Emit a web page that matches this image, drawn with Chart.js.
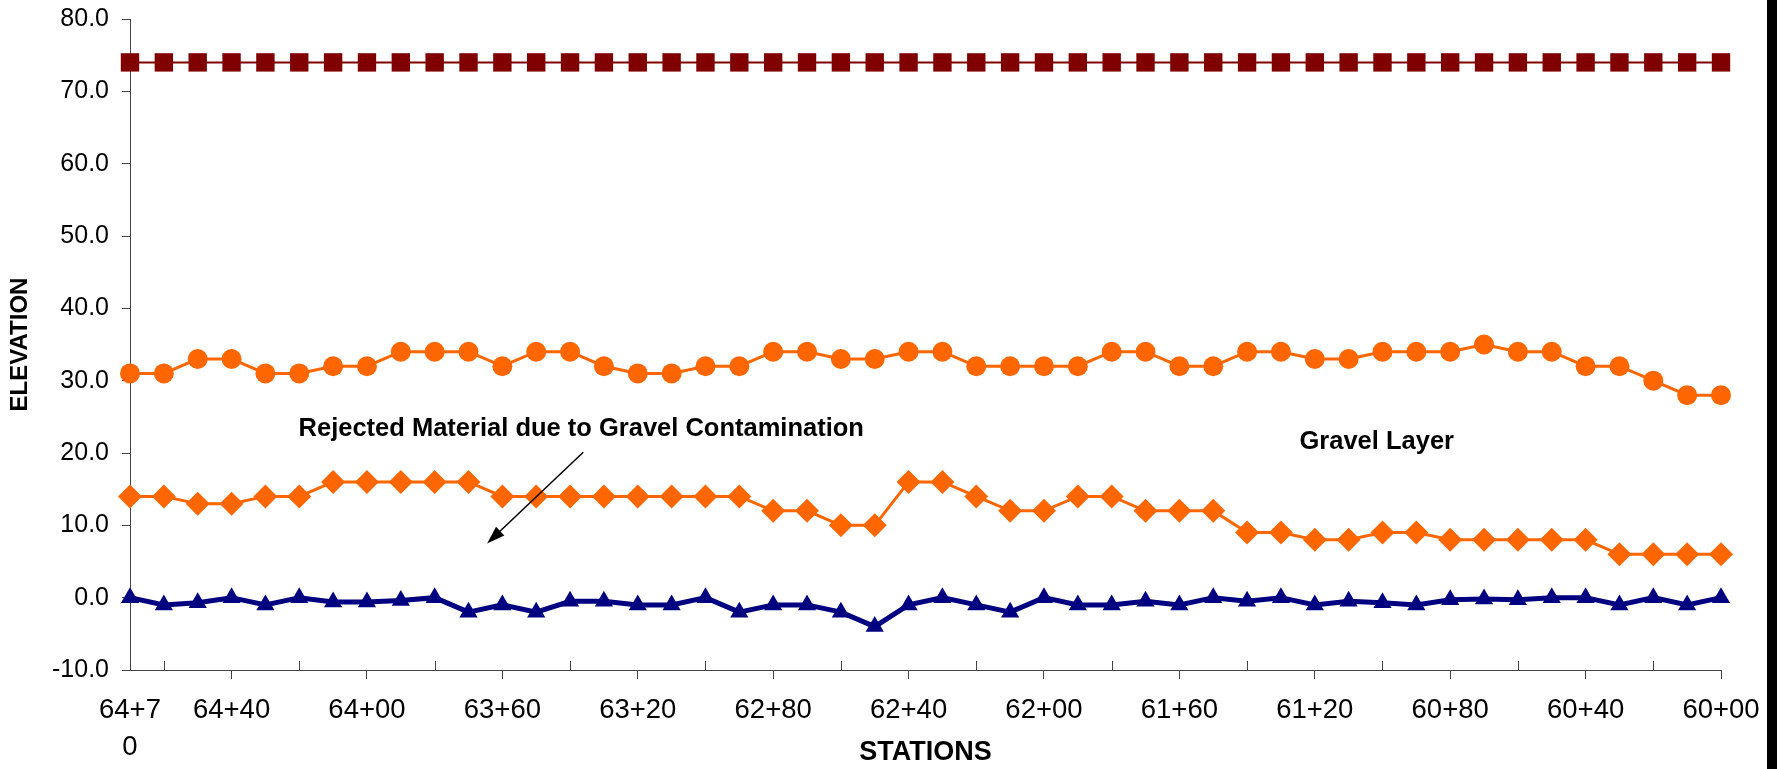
<!DOCTYPE html>
<html>
<head>
<meta charset="utf-8">
<script src="https://cdn.jsdelivr.net/npm/chart.js@4.4.1/dist/chart.umd.min.js"></script>
<style>
    html, body { margin: 0; padding: 0; background: #fff; }
    #wrap { position: relative; width: 1781px; height: 769px; }
    #edge { position: absolute; left: 1767px; top: 0; width: 10px; height: 769px; background: #000; }
</style>
</head>
<body>
<div id="wrap">
    <canvas id="myChart" width="1781" height="769"></canvas>
    <div id="edge"></div>
</div>
<script>
// stations along the alignment (left to right)
const stations = [
    '64+70', '64+60', '64+50', '64+40', '64+30', '64+20', '64+10', '64+00',
    '63+90', '63+80', '63+70', '63+60', '63+50', '63+40', '63+30', '63+20', '63+10', '63+00',
    '62+90', '62+80', '62+70', '62+60', '62+50', '62+40', '62+30', '62+20', '62+10', '62+00',
    '61+90', '61+80', '61+70', '61+60', '61+50', '61+40', '61+30', '61+20', '61+10', '61+00',
    '60+90', '60+80', '60+70', '60+60', '60+50', '60+40', '60+30', '60+20', '60+10', '60+00'
];

// stations that get a label on the axis
const tickLabels = ['64+70', '64+40', '64+00', '63+60', '63+20', '62+80', '62+40',
    '62+00', '61+60', '61+20', '60+80', '60+40', '60+00'];

const surface = [
    74, 74, 74, 74, 74, 74, 74, 74, 74, 74, 74, 74, 74, 74, 74, 74,
    74, 74, 74, 74, 74, 74, 74, 74, 74, 74, 74, 74, 74, 74, 74, 74,
    74, 74, 74, 74, 74, 74, 74, 74, 74, 74, 74, 74, 74, 74, 74, 74
];

const gravelTop = [
    31, 31, 33, 33, 31, 31, 32, 32, 34, 34,
    34, 32, 34, 34, 32, 31, 31, 32, 32, 34,
    34, 33, 33, 34, 34, 32, 32, 32, 32, 34,
    34, 32, 32, 34, 34, 33, 33, 34, 34, 34,
    35, 34, 34, 32, 32, 30, 28, 28
];

const gravelBottom = [
    14, 14, 13, 13, 14, 14, 16, 16, 16, 16,
    16, 14, 14, 14, 14, 14, 14, 14, 14, 12,
    12, 10, 10, 16, 16, 14, 12, 12, 14, 14,
    12, 12, 12, 9, 9, 8, 8, 9, 9, 8,
    8, 8, 8, 8, 6, 6, 6, 6
];

const baseLine = [
    0, -1, -0.7, 0, -1, 0, -0.6, -0.6, -0.4, 0,
    -2, -1, -2, -0.5, -0.5, -1, -1, 0, -2, -1,
    -1, -2, -4, -1, 0, -1, -2, 0, -1, -1,
    -0.5, -1, 0, -0.5, 0, -1, -0.5, -0.7, -1, -0.3,
    -0.2, -0.3, 0, 0, -1, 0, -1, 0
];

// notes placed in data units: [station index, elevation]
const notes = [
    { text: 'Rejected Material due to Gravel Contamination', at: [13.33, 23.3] },
    { text: 'Gravel Layer', at: [36.83, 21.5] }
];
const arrowFrom = [13.39, 20.1];
const arrowTo = [10.55, 7.5];

const axisColor = '#444444';
const fontFamily = '"Liberation Sans", Arial, Helvetica, sans-serif';

const notesPlugin = {
    id: 'notes',
    afterDatasetsDraw(chart) {
        const { ctx, scales: { x, y } } = chart;
        ctx.save();

        // small marks above the category axis between the labelled ones
        ctx.strokeStyle = axisColor;
        ctx.lineWidth = 1;
        for (let i = 1; i < stations.length; i += 4) {
            const px = Math.round(x.getPixelForValue(i)) + 0.5;
            ctx.beginPath();
            ctx.moveTo(px, y.bottom);
            ctx.lineTo(px, y.bottom - 9);
            ctx.stroke();
        }

        ctx.fillStyle = '#000';
        ctx.font = 'bold 25.5px ' + fontFamily;
        ctx.textAlign = 'center';
        ctx.textBaseline = 'middle';
        notes.forEach(n => {
            ctx.fillText(n.text, x.getPixelForValue(n.at[0]), y.getPixelForValue(n.at[1]));
        });

        // arrow
        const x1 = x.getPixelForValue(arrowFrom[0]), y1 = y.getPixelForValue(arrowFrom[1]);
        const x2 = x.getPixelForValue(arrowTo[0]), y2 = y.getPixelForValue(arrowTo[1]);
        const ang = Math.atan2(y2 - y1, x2 - x1);
        const head = 18, half = 6;
        ctx.strokeStyle = '#000';
        ctx.lineWidth = 1.5;
        ctx.beginPath();
        ctx.moveTo(x1, y1);
        ctx.lineTo(x2 - Math.cos(ang) * head * 0.8, y2 - Math.sin(ang) * head * 0.8);
        ctx.stroke();
        ctx.beginPath();
        ctx.moveTo(x2, y2);
        ctx.lineTo(x2 - Math.cos(ang) * head - Math.sin(ang) * half, y2 - Math.sin(ang) * head + Math.cos(ang) * half);
        ctx.lineTo(x2 - Math.cos(ang) * head + Math.sin(ang) * half, y2 - Math.sin(ang) * head - Math.cos(ang) * half);
        ctx.closePath();
        ctx.fill();

        ctx.restore();
    }
};

const ctx = document.getElementById('myChart');

new Chart(ctx, {
    type: 'line',
    data: {
        labels: stations,
        datasets: [{
            label: 'Surface',
            data: surface,
            borderColor: '#800000',
            backgroundColor: '#800000',
            borderWidth: 2,
            pointStyle: 'rect',
            pointRadius: 13,
            pointBorderWidth: 0
        }, {
            label: 'Top of Gravel',
            data: gravelTop,
            borderColor: '#FF6600',
            backgroundColor: '#FF6600',
            borderWidth: 3,
            pointStyle: 'circle',
            pointRadius: 10,
            pointBorderWidth: 0
        }, {
            label: 'Bottom of Gravel',
            data: gravelBottom,
            borderColor: '#FF6600',
            backgroundColor: '#FF6600',
            borderWidth: 3,
            pointStyle: 'rectRot',
            pointRadius: 12,
            pointBorderWidth: 0
        }, {
            label: 'Base',
            data: baseLine,
            borderColor: '#000080',
            backgroundColor: '#000080',
            borderWidth: 5,
            pointStyle: 'triangle',
            pointRadius: 10.5,
            pointBorderWidth: 0
        }]
    },
    options: {
        responsive: false,
        animation: false,
        devicePixelRatio: 1,
        layout: { padding: { top: 19, right: 60, bottom: 0, left: 0 } },
        plugins: {
            legend: { display: false },
            tooltip: { enabled: false }
        },
        scales: {
            x: {
                offset: false,
                afterFit(scale) { scale.height = 99; },
                border: { color: axisColor, width: 1 },
                grid: {
                    drawOnChartArea: false,
                    tickLength: 9,
                    tickColor: (c) => (c.index % 4 === 3 ? axisColor : 'rgba(0,0,0,0)')
                },
                ticks: {
                    autoSkip: false,
                    maxRotation: 0,
                    minRotation: 0,
                    padding: 13,
                    color: '#000',
                    font: { family: fontFamily, size: 27.5, lineHeight: 1.35 },
                    callback: function (value, index) {
                        const s = stations[index];
                        if (!tickLabels.includes(s)) return '';
                        if (index === 0) return [s.slice(0, 4), s.slice(4)];
                        return s;
                    }
                },
                title: {
                    display: true,
                    text: 'STATIONS',
                    color: '#000',
                    font: { family: fontFamily, size: 27, weight: 'bold' },
                    padding: { top: 0, bottom: 0 }
                }
            },
            y: {
                min: -10,
                max: 80,
                afterFit(scale) {
                    scale.width = 130;
                    scale.paddingTop = 0;
                    scale.paddingBottom = 0;
                },
                border: { color: axisColor, width: 1 },
                grid: {
                    drawOnChartArea: false,
                    tickLength: 8,
                    tickColor: axisColor
                },
                ticks: {
                    stepSize: 10,
                    padding: 13,
                    color: '#000',
                    font: { family: fontFamily, size: 25 },
                    callback: (v) => v.toFixed(1)
                },
                title: {
                    display: true,
                    text: 'ELEVATION',
                    color: '#000',
                    font: { family: fontFamily, size: 24, weight: 'bold' },
                    padding: { top: 6, bottom: 0 }
                }
            }
        }
    },
    plugins: [notesPlugin]
});
</script>
</body>
</html>
